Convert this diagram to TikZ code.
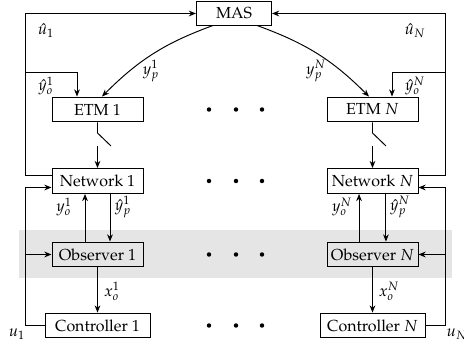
\documentclass[tikz,border=0pt]{standalone}
\usepackage[T1]{fontenc}
\usepackage{mathpazo}
\usetikzlibrary{arrows.meta,calc}
\begin{document}
\begin{tikzpicture}[x=0.625pt,y=-0.625pt,
  line width=0.6pt,
  blk/.style={draw,inner sep=0pt,minimum width=56.9pt,minimum height=15.6pt},
  arr/.style={-{Stealth[length=4.5pt,width=3.6pt]}},
  dotn/.style={circle,fill,inner sep=0pt,minimum size=2.8pt},
  lbl/.style={inner sep=0pt}]
\useasboundingbox (0,0) rectangle (464,347);
\fill[gray!20] (19,230) rectangle (452,278);
% blocks
\node[blk,minimum width=46.9pt,minimum height=14.4pt] (mas) at (234,13.5) {MAS};
\node[blk] (etm1) at (97.5,109.5) {ETM 1};
\node[blk] (etmN) at (372.5,109.5) {ETM $N$};
\node[blk] (net1) at (97.5,181) {Network 1};
\node[blk] (netN) at (372.5,181) {Network $N$};
\node[blk] (obs1) at (97.5,254.5) {Observer 1};
\node[blk] (obsN) at (372.5,254.5) {Observer $N$};
\node[blk,minimum width=65.6pt] (ctl1) at (97.5,325.5) {Controller 1};
\node[blk,minimum width=65.6pt] (ctlN) at (372.5,325.5) {Controller $N$};
% dots
\foreach \yy in {109.5,181,254.5,325.5}{
  \foreach \xx in {209,236,262}{
    \node[dotn] at (\xx,\yy) {};
  }
}
% curves from MAS
\draw[arr] ([xshift=-13.1pt]mas.south) to[out=200,in=45] ([xshift=2.8pt]etm1.north);
\draw[arr] ([xshift=14.4pt]mas.south) to[out=-20,in=135] ([xshift=-2.2pt]etmN.north);
\node[lbl] (yp1) at (151,71) {$y_p^1$};
\node[lbl] (ypN) at (316,71) {$y_p^N$};
% switches
\coordinate (s1a) at (97.5,133);
\coordinate (s1b) at (111,146);
\coordinate (s1c) at (97.5,146);
\draw (etm1.south) -- (s1a) -- (s1b);
\draw[arr] (s1c) -- (net1.north);
\coordinate (sNa) at (372.5,133);
\coordinate (sNb) at (386,146);
\coordinate (sNc) at (372.5,146);
\draw (etmN.south) -- (sNa) -- (sNb);
\draw[arr] (sNc) -- (netN.north);
% left bus
\coordinate (L1) at (25,175.5);
\coordinate (L2) at (25,187.5);
\coordinate (L3) at (25,325.5);
\coordinate (L4) at (25,254.5);
\coordinate (L5) at (25,72);
\coordinate (L6) at (77,72);
\draw[arr] (L1 -| net1.west) -- (L1) |- (mas.west);
\draw[arr] (L5) -- (L6) -- (L6 |- etm1.north);
\draw[arr] (ctl1.west) -- (L3) -- (L2) -- (L2 -| net1.west);
\draw[arr] (L4) -- (obs1.west);
% right bus
\coordinate (R1) at (445,175.5);
\coordinate (R2) at (445,187.5);
\coordinate (R3) at (445,325.5);
\coordinate (R4) at (445,254.5);
\coordinate (R5) at (445,72);
\coordinate (R6) at (392,72);
\draw[arr] (R1 -| netN.east) -- (R1) |- (mas.east);
\draw[arr] (R5) -- (R6) -- (R6 |- etmN.north);
\draw[arr] (ctlN.east) -- (R3) -- (R2) -- (R2 -| netN.east);
\draw[arr] (R4) -- (obsN.east);
% network <-> observer
\draw[arr] ([xshift=-7.8pt]obs1.north) -- ([xshift=-7.8pt]net1.south);
\draw[arr] ([xshift=7.8pt]net1.south) -- ([xshift=7.8pt]obs1.north);
\draw[arr] ([xshift=-8.4pt]obsN.north) -- ([xshift=-8.4pt]netN.south);
\draw[arr] ([xshift=8.4pt]netN.south) -- ([xshift=8.4pt]obsN.north);
% observer -> controller
\draw[arr] (obs1.south) -- (ctl1.north);
\draw[arr] (obsN.south) -- (ctlN.north);
% labels
\node[lbl] (uh1) at (46,31) {$\hat{u}_1$};
\node[lbl] (uhN) at (415,31) {$\hat{u}_N$};
\node[lbl] (yo1h) at (46,86) {$\hat{y}_o^1$};
\node[lbl] (yoNh) at (415,86) {$\hat{y}_o^N$};
\node[lbl] (yo1) at (64,207) {$y_o^1$};
\node[lbl] (yp1h) at (123,207) {$\hat{y}_p^1$};
\node[lbl] (yoN) at (342,207) {$y_o^N$};
\node[lbl] (ypNh) at (400,207) {$\hat{y}_p^N$};
\node[lbl] (xo1) at (112,291) {$x_o^1$};
\node[lbl] (xoN) at (389,291) {$x_o^N$};
\node[lbl] (u1) at (17,334) {$u_1$};
\node[lbl] (uN) at (457,334) {$u_N$};
\end{tikzpicture}
\end{document}
